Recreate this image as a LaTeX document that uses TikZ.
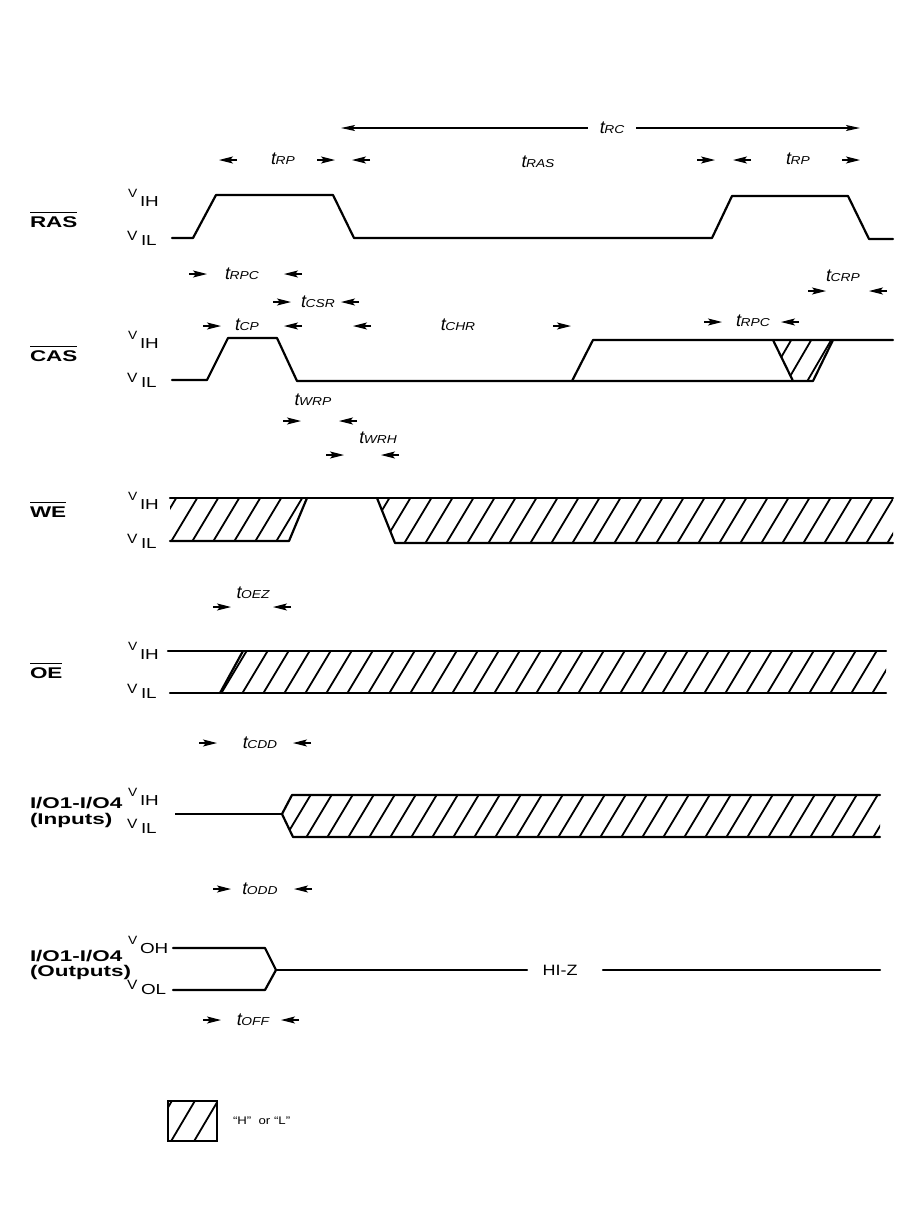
\documentclass[tikz,border=0pt]{standalone}
\usepackage{fontspec}
\setmainfont{Liberation Sans}
\usepackage{graphicx}
\usetikzlibrary{arrows.meta}
\newcommand\sigtext[1]{\scalebox{1.45}[1]{\fontsize{15.5}{15.5}\selectfont\bfseries #1}}
\newcommand\tlab[1]{{\fontsize{18}{18}\selectfont\itshape t}\kern-0.5pt\scalebox{1.2}[1]{\fontsize{11.5}{11.5}\selectfont\itshape #1}}
\newcommand\mkR[2]{\draw[mk] ({#1-9},#2) -- ({#1+9},#2);}
\newcommand\mkL[2]{\draw[mk] ({#1+9},#2) -- ({#1-9},#2);}
\newcommand\vhi[2]{%
  \node[lab,anchor=base west] at (128,{#1-9}) {\scalebox{1.15}[1]{\fontsize{12}{12}\selectfont V}};
  \node[lab,anchor=base west] at (140,#1) {\scalebox{1.3}[1]{\fontsize{14.5}{14.5}\selectfont #2}};}
\newcommand\vlo[2]{%
  \node[lab,anchor=base west] at (127,{#1-5}) {\scalebox{1.15}[1]{\fontsize{13.5}{13.5}\selectfont V}};
  \node[lab,anchor=base west] at (141,#1) {\scalebox{1.3}[1]{\fontsize{14.5}{14.5}\selectfont #2}};}
\begin{document}
\begin{tikzpicture}[x=1pt,y=-1pt,
  lab/.style={inner sep=0pt,outer sep=0pt},
  wave/.style={line width=2.2pt,line join=round,line cap=round},
  thinwave/.style={line width=1.5pt},
  hatch/.style={line width=1.8pt},
  mk/.style={line width=1.1pt,-{Stealth[length=14pt,width=7pt,inset=3pt]}},
  ovl/.style={line width=1.6pt}]
\useasboundingbox (0,0) rectangle (919,1208);

% ---------- signal names ----------
\node[lab,anchor=west] (ras) at (30,222) {\sigtext{RAS}};
\node[lab,anchor=west] (cas) at (30,356) {\sigtext{CAS}};
\node[lab,anchor=west] (we)  at (30,512) {\sigtext{WE}};
\node[lab,anchor=west] (oe)  at (30,673) {\sigtext{OE}};
\foreach \n in {ras,cas,we,oe}
  \draw[ovl] ([yshift=4pt]\n.north west) -- ([yshift=4pt]\n.north east);
\node[lab,anchor=west] (io1) at (30,803) {\sigtext{I/O1-I/O4}};
\node[lab,anchor=west] (in)  at (30,820) {\sigtext{(Inputs)}};
\node[lab,anchor=west] (io2) at (30,956) {\sigtext{I/O1-I/O4}};
\node[lab,anchor=west] (out) at (30,972) {\sigtext{(Outputs)}};

% ---------- level labels ----------
\vhi{206}{IH}\vlo{245}{IL}
\vhi{348}{IH}\vlo{387}{IL}
\vhi{509}{IH}\vlo{548}{IL}
\vhi{659}{IH}\vlo{698}{IL}
\vhi{805}{IH}\vlo{833}{IL}
\vhi{953}{OH}\vlo{994}{OL}

% ---------- tRC ----------
\node[lab] (trc) at (612,128) {\tlab{RC}};
\coordinate (trcL) at (341,128);
\coordinate (trcR) at (860,128);
\draw[line width=1.3pt,-{Stealth[length=14pt,width=6pt,inset=3pt]}] ([xshift=-12pt]trc.west) -- (trcL);
\draw[line width=1.3pt,-{Stealth[length=14pt,width=6pt,inset=3pt]}] ([xshift=12pt]trc.east) -- (trcR);

% ---------- row 1 ----------
\mkL{228}{160}\node[lab] (trp1) at (283,159) {\tlab{RP}};\mkR{326}{160}
\mkL{361}{160}\node[lab] (tras) at (538,162) {\tlab{RAS}};\mkR{706}{160}
\mkL{742}{160}\node[lab] (trp2) at (798,159) {\tlab{RP}};\mkR{851}{160}

% ---------- RAS ----------
\draw[wave] (172,238) -- (193,238) -- (216,195) -- (333,195) -- (354,238)
  -- (712,238) -- (732,196) -- (848,196) -- (869,239) -- (893,239);

% ---------- CAS timing ----------
\mkR{198}{274}\node[lab] (trpc1) at (242,274) {\tlab{RPC}};\mkL{293}{274}
\node[lab] (tcrp) at (843,276) {\tlab{CRP}};\mkR{817}{291}\mkL{878}{291}
\mkR{282}{302}\node[lab] (tcsr) at (318,302) {\tlab{CSR}};\mkL{350}{302}
\mkR{212}{326}\node[lab] (tcp) at (247,325) {\tlab{CP}};\mkL{293}{326}
\mkL{362}{326}\node[lab] (tchr) at (458,325) {\tlab{CHR}};\mkR{562}{326}
\mkR{713}{322}\node[lab] (trpc2) at (753,321) {\tlab{RPC}};\mkL{790}{322}

% ---------- CAS ----------
\begin{scope}
\clip (773,340) -- (833,340) -- (813,381) -- (793,381) -- cycle;
\foreach \x in {745,765,...,845} \draw[hatch] (\x,385) -- ++(28,-48);
\end{scope}
\draw[wave] (172,380) -- (207,380) -- (228,338) -- (277,338) -- (297,381)
  -- (813,381) -- (833,340);
\draw[wave] (572,381) -- (593,340) -- (893,340);
\draw[wave] (773,340) -- (793,381);

% ---------- tWRP / tWRH ----------
\node[lab] (twrp) at (313,400) {\tlab{WRP}};\mkR{292}{421}\mkL{348}{421}
\node[lab] (twrh) at (378,438) {\tlab{WRH}};\mkR{335}{455}\mkL{390}{455}

% ---------- WE ----------
\begin{scope}
\clip (170,498) -- (307,498) -- (289,541) -- (170,541) -- cycle;
\foreach \x in {148,169,...,320} \draw[hatch] (\x,545) -- ++(30,-50);
\end{scope}
\begin{scope}
\clip (377,498) -- (893,498) -- (893,543) -- (395,543) -- cycle;
\foreach \x in {360,381,...,900} \draw[hatch] (\x,547) -- ++(30,-50);
\end{scope}
\draw[wave] (170,498) -- (893,498);
\draw[wave] (170,541) -- (289,541) -- (307,498);
\draw[wave] (377,498) -- (395,543) -- (893,543);

% ---------- tOEZ ----------
\node[lab] (toez) at (253,593) {\tlab{OEZ}};\mkR{222}{607}\mkL{282}{607}

% ---------- OE ----------
\begin{scope}
\clip (243,651) -- (886,651) -- (886,693) -- (220,693) -- cycle;
\foreach \x in {198,219,...,900} \draw[hatch] (\x,697) -- ++(30,-50);
\end{scope}
\draw[wave] (168,651) -- (886,651);
\draw[wave] (170,693) -- (886,693);
\draw[wave] (243,651) -- (220,693);

% ---------- tCDD ----------
\mkR{208}{743}\node[lab] (tcdd) at (260,743) {\tlab{CDD}};\mkL{302}{743}

% ---------- Inputs ----------
\begin{scope}
\clip (282,814) -- (292,795) -- (880,795) -- (880,837) -- (293,837) -- cycle;
\foreach \x in {262,283,...,890} \draw[hatch] (\x,841) -- ++(30,-50);
\end{scope}
\draw[thinwave] (175,814) -- (282,814);
\draw[wave] (282,814) -- (292,795) -- (880,795);
\draw[wave] (282,814) -- (293,837) -- (880,837);

% ---------- tODD ----------
\mkR{222}{889}\node[lab] (todd) at (260,889) {\tlab{ODD}};\mkL{303}{889}

% ---------- Outputs ----------
\node[lab] (hiz) at (560,970) {\scalebox{1.2}[1]{\fontsize{15}{15}\selectfont HI-Z}};
\coordinate (merge) at (276,970);
\draw[wave] (173,948) -- (265,948) -- (merge);
\draw[wave] (173,990) -- (265,990) -- (merge);
\draw[wave] (merge) -- (527,970);
\draw[wave] (603,970) -- (880,970);

% ---------- tOFF ----------
\mkR{212}{1020}\node[lab] (toff) at (253,1020) {\tlab{OFF}};\mkL{290}{1020}

% ---------- legend ----------
\begin{scope}
\clip (168,1101) rectangle (217,1141);
\foreach \x in {147,170,193,216} \draw[hatch] (\x,1143) -- ++(26,-44);
\end{scope}
\draw[line width=2pt] (168,1101) rectangle (217,1141);
\node[lab,anchor=west] (leg) at (233,1121) {\scalebox{1.2}[1]{\fontsize{11}{11}\selectfont ``H''\ \ or ``L''}};
\end{tikzpicture}
\end{document}
